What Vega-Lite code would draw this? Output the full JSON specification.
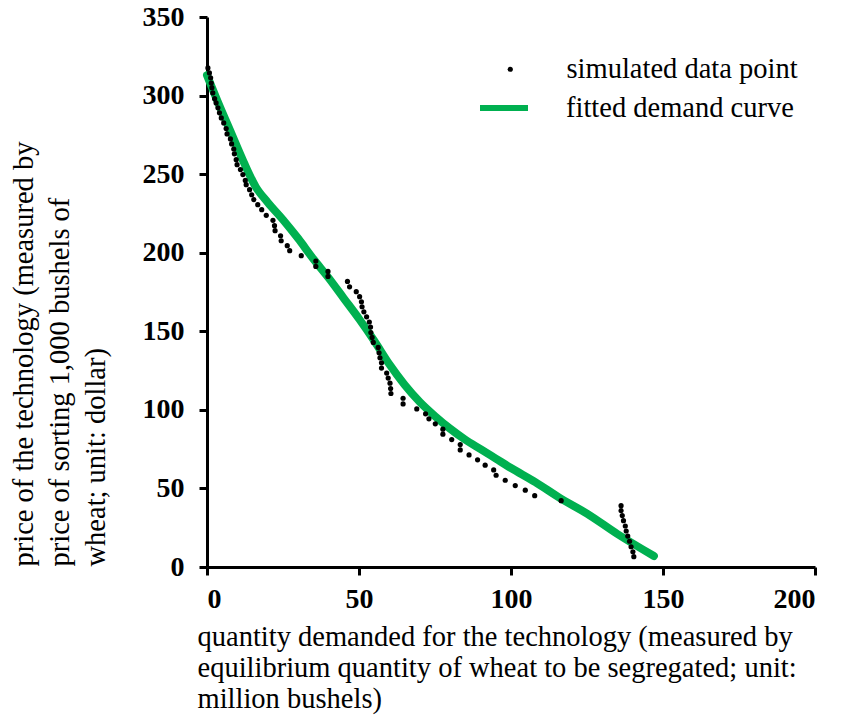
{
  "$schema": "https://vega.github.io/schema/vega-lite/v6.json",
  "autosize": {"type": "none"},
  "width": 608,
  "height": 550,
  "padding": {"left": 207, "top": 17, "right": 28, "bottom": 156},
  "background": "white",
  "config": {
    "font": "Liberation Serif",
    "view": {"stroke": null},
    "axis": {"grid": false, "domainColor": "black", "domainWidth": 3, "tickColor": "black", "tickWidth": 3, "tickSize": 8,
             "labelFont": "Liberation Serif", "labelFontWeight": "bold", "labelFontSize": 28, "labelColor": "black",
             "titleFont": "Liberation Serif", "titleFontWeight": "normal", "titleFontSize": 28.5, "titleColor": "black"}
  },
  "datasets": {
    "points": [
      {"q":0.3,"p":317.6},{"q":0.8,"p":314.4},{"q":1.2,"p":311.3},{"q":1.4,"p":308},{"q":1.6,"p":305},{"q":1.9,"p":301.7},
      {"q":2.5,"p":298},{"q":3.0,"p":295.3},{"q":3.6,"p":292.2},{"q":4.1,"p":289},{"q":4.7,"p":285.8},{"q":5.5,"p":282.6},
      {"q":6.3,"p":279},{"q":6.6,"p":275.6},{"q":7.7,"p":272.4},{"q":8.1,"p":269.2},{"q":8.8,"p":266},{"q":9.0,"p":262.9},
      {"q":9.6,"p":259.2},{"q":9.9,"p":256},{"q":11.0,"p":252.9},{"q":11.8,"p":249.7},{"q":12.6,"p":246},{"q":12.9,"p":243.3},
      {"q":14.0,"p":240.1},{"q":14.7,"p":236.9},{"q":15.4,"p":233.8},{"q":16.7,"p":230.6},{"q":18.0,"p":227.4},{"q":19.5,"p":223.8},
      {"q":21.7,"p":220.6},{"q":22.2,"p":217.2},{"q":22.4,"p":214},{"q":24.2,"p":210.8},{"q":24.4,"p":207.6},{"q":26.4,"p":204.5},
      {"q":27.2,"p":201.3},{"q":31.0,"p":198.1},{"q":35.8,"p":194.7},{"q":35.8,"p":191.3},{"q":39.8,"p":188.1},{"q":39.8,"p":184.9},
      {"q":46.2,"p":181.7},{"q":46.9,"p":178.3},{"q":49.1,"p":175.2},{"q":50.2,"p":172},{"q":50.8,"p":168.8},{"q":51.0,"p":165.6},
      {"q":51.6,"p":162.4},{"q":52.5,"p":159.2},{"q":53.4,"p":155.9},{"q":53.8,"p":152.7},{"q":53.9,"p":149.2},{"q":54.3,"p":146.1},
      {"q":54.7,"p":142.9},{"q":56.3,"p":139.7},{"q":56.6,"p":136.3},{"q":56.9,"p":133.1},{"q":57.4,"p":129.9},{"q":57.4,"p":126.6},
      {"q":59.1,"p":123.4},{"q":59.6,"p":120.2},{"q":60.2,"p":117},{"q":60.4,"p":113.6},{"q":60.5,"p":110.4},{"q":64.5,"p":107.4},
      {"q":64.5,"p":103.8},{"q":69.0,"p":100.6},{"q":71.9,"p":97.5},{"q":73.0,"p":94.3},{"q":75.1,"p":91.1},{"q":77.6,"p":87.7},
      {"q":77.6,"p":84.5},{"q":80.5,"p":81.1},{"q":83.3,"p":77.9},{"q":83.3,"p":74.5},{"q":86.2,"p":71.3},{"q":89.0,"p":68.2},
      {"q":91.5,"p":64.8},{"q":94.3,"p":61.8},{"q":95.1,"p":58.4},{"q":98.1,"p":55.2},{"q":101.4,"p":51.8},{"q":104.7,"p":48.9},
      {"q":107.8,"p":45.4},{"q":116.5,"p":42.2},{"q":136.2,"p":39.0},{"q":136.2,"p":35.9},{"q":136.6,"p":32.7},{"q":137.0,"p":29.5},
      {"q":137.6,"p":26.1},{"q":137.9,"p":22.9},{"q":138.4,"p":19.7},{"q":139.0,"p":16.4},{"q":139.5,"p":12.9},{"q":140.1,"p":9.7},
      {"q":140.4,"p":6.6}
    ],
    "curve": [
      {"q":0,"p":313},{"q":4,"p":294},{"q":8,"p":276},{"q":12,"p":258},{"q":16,"p":242},{"q":20,"p":232},{"q":25,"p":221},
      {"q":30,"p":209},{"q":35,"p":196},{"q":40,"p":184},{"q":45,"p":171},{"q":50,"p":158},{"q":55,"p":144},{"q":60,"p":129},
      {"q":65,"p":116},{"q":70,"p":105},{"q":75,"p":96},{"q":80,"p":88},{"q":85,"p":81},{"q":90,"p":75},{"q":95,"p":69},
      {"q":100,"p":63},{"q":108,"p":54},{"q":116,"p":44},{"q":125,"p":34},{"q":135,"p":21},{"q":147,"p":7}
    ]
  },
  "layer": [
    {
      "data": {"name": "curve"},
      "transform": [{"calculate": "'fitted demand curve'", "as": "series"}],
      "mark": {"type": "line", "strokeWidth": 8, "strokeCap": "round", "strokeJoin": "round", "interpolate": "monotone"},
      "encoding": {
        "x": {"field": "q", "type": "quantitative", "scale": {"domain": [0, 200], "nice": false},
              "axis": {"values": [0, 50, 100, 150, 200], "labelPadding": 10,
                       "title": ["quantity demanded for the technology (measured by", "equilibrium quantity of wheat to be segregated; unit:", "million bushels)"],
                       "titleAnchor": "start", "titleAlign": "left", "titleX": -10, "titleY": 55, "titleBaseline": "top", "titleLineHeight": 31}},
        "y": {"field": "p", "type": "quantitative", "scale": {"domain": [0, 350], "nice": false},
              "axis": {"values": [0, 50, 100, 150, 200, 250, 300, 350], "labelPadding": 15,
                       "title": ["price of the technology (measured by", "price of sorting 1,000 bushels of", "wheat; unit: dollar)"],
                       "titleAnchor": "start", "titleAlign": "left", "titleAngle": -90, "titleX": -198, "titleY": 549, "titleBaseline": "top", "titleLineHeight": 36}},
        "color": {"field": "series", "type": "nominal", "scale": {"range": ["#00b050"]},
                  "legend": {"orient": "none", "legendX": 270, "legendY": 64, "title": null, "padding": 0,
                             "symbolType": "stroke", "symbolSize": 2304, "symbolStrokeWidth": 6, "symbolStrokeColor": "#00b050",
                             "labelOffset": 35, "labelFont": "Liberation Serif", "labelFontSize": 28.5, "labelColor": "black", "labelLimit": 400}}
      }
    },
    {
      "data": {"name": "points"},
      "transform": [{"calculate": "'simulated data point'", "as": "series"}],
      "mark": {"type": "point", "filled": true, "color": "black", "size": 27, "opacity": 1},
      "encoding": {
        "x": {"field": "q", "type": "quantitative"},
        "y": {"field": "p", "type": "quantitative"},
        "shape": {"field": "series", "type": "nominal", "scale": {"range": ["circle"]},
                  "legend": {"orient": "none", "legendX": 289, "legendY": 38, "title": null, "padding": 0,
                             "symbolSize": 27, "symbolFillColor": "black", "symbolStrokeColor": "black", "symbolOpacity": 1,
                             "labelOffset": 42, "labelFont": "Liberation Serif", "labelFontSize": 28.5, "labelColor": "black", "labelLimit": 400}}
      }
    }
  ]
}
